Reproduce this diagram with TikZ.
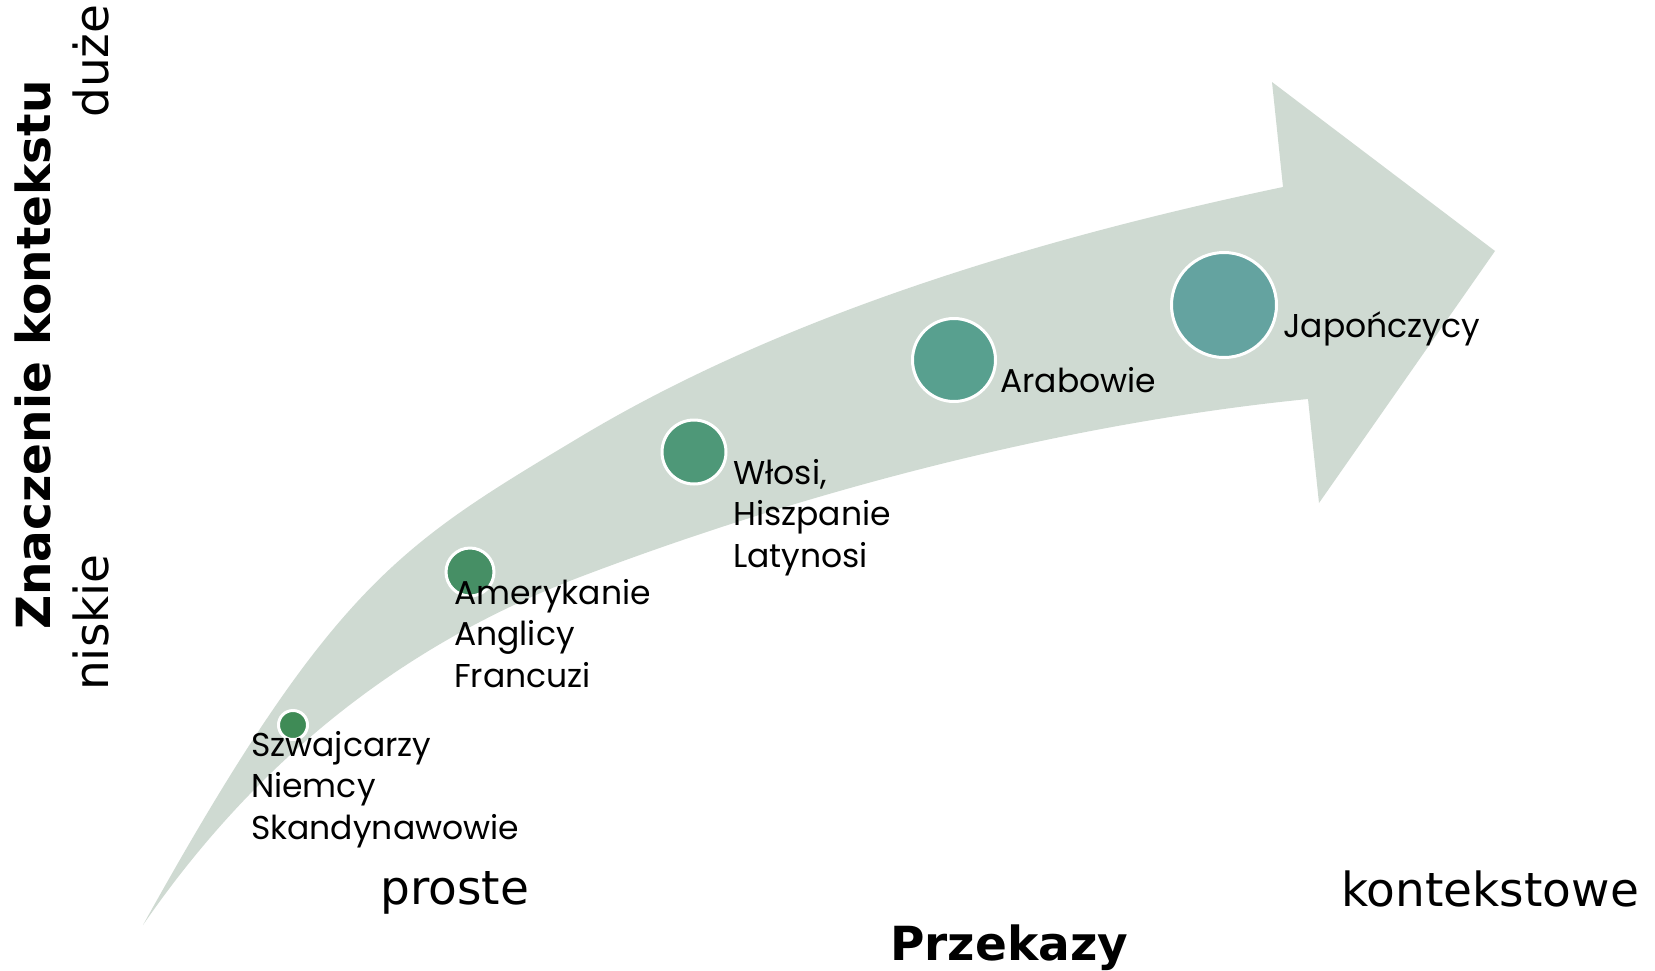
\documentclass[tikz,border=0pt]{standalone}
\usepackage{fontspec}
\newfontfamily\lblfont{Poppins}
\newfontfamily\axfont{DejaVu Sans}
\definecolor{arrowfill}{HTML}{CFDAD2}
\definecolor{dotA}{HTML}{3F8B56}
\definecolor{dotB}{HTML}{468F65}
\definecolor{dotC}{HTML}{4E9878}
\definecolor{dotD}{HTML}{58A08F}
\definecolor{dotE}{HTML}{64A3A0}
\tikzset{
  dot/.style={circle, draw=white, line width=3pt, inner sep=0pt},
  lbl/.style={anchor=base west, inner sep=0pt, align=left, text=black,
    font=\lblfont\fontsize{33}{41.5}\selectfont},
  axis/.style={anchor=base west, inner sep=0pt, text=black,
    font=\axfont\fontsize{47}{56}\selectfont},
  axisbold/.style={anchor=base west, inner sep=0pt, text=black,
    font=\axfont\bfseries\fontsize{47}{56}\selectfont}
}
\begin{document}
\begin{tikzpicture}[x=1pt,y=-1pt]
\useasboundingbox (0,0) rectangle (1655,970);
% curved arrow
\fill[arrowfill] (143,925)
  .. controls (333,583) and (400,545) .. (580,437)
  .. controls (780,317) and (1033,239.5) .. (1283,187)
  -- (1272,82) -- (1495,251) -- (1319,503) -- (1308,399)
  .. controls (1058,424) and (800,493.4) .. (580,577)
  .. controls (430,634) and (273,736.5) .. (143,925) -- cycle;
% dots
\node[dot, fill=dotA, minimum size=29pt] (szw) at (293,725) {};
\node[dot, fill=dotB, minimum size=48pt] (ame) at (470,572) {};
\node[dot, fill=dotC, minimum size=64pt] (wlo) at (694,452) {};
\node[dot, fill=dotD, minimum size=83pt] (ara) at (954,360) {};
\node[dot, fill=dotE, minimum size=105pt] (jap) at (1224,305) {};
% labels
\node[lbl] (szwT) at (251,839) {Szwajcarzy\\Niemcy\\Skandynawowie};
\node[lbl] (ameT) at (454,687) {Amerykanie\\Anglicy\\Francuzi};
\node[lbl] (wloT) at (733,567) {Włosi,\\Hiszpanie\\Latynosi};
\node[lbl] (araT) at (1000,392) {Arabowie};
\node[lbl] (japT) at (1283,337) {Japończycy};
% axes
\node[axisbold, rotate=90] (ylab) at (50,630) {Znaczenie kontekstu};
\node[axis, rotate=90] (ylo) at (108,691) {niskie};
\node[axis, rotate=90] (yhi) at (108,118) {duże};
\node[axisbold] (xlab) at (890,960) {Przekazy};
\node[axis] (xlo) at (380,904) {proste};
\node[axis] (xhi) at (1341,906) {kontekstowe};
\end{tikzpicture}
\end{document}
